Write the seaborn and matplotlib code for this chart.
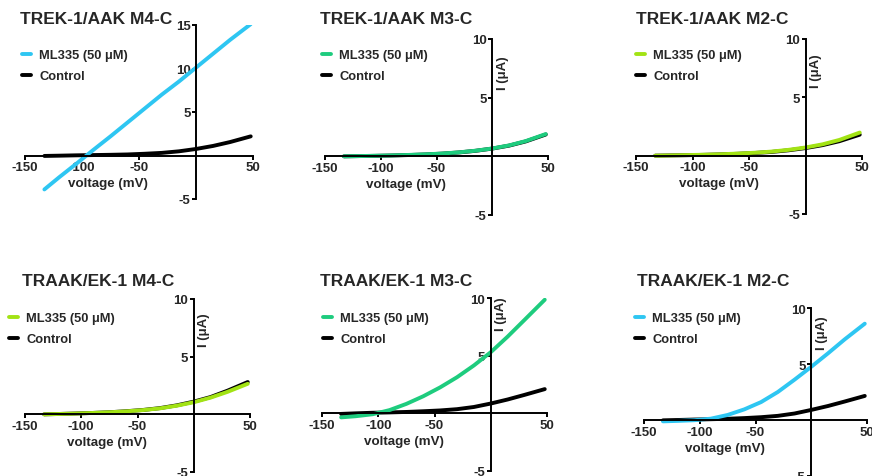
import numpy as np
import pandas as pd
import matplotlib
matplotlib.use("Agg")
import matplotlib.pyplot as plt
import seaborn as sns

sns.set_style("white")
plt.rcParams["font.family"] = ["Liberation Sans", "DejaVu Sans"]
plt.rcParams["font.weight"] = "bold"

## datos: voltaje (mV) y corriente (uA)
voltaje = [-133, -120, -105, -90, -75, -60, -45, -30, -15, 0, 15, 30, 48]

titulos = ["TREK-1/AAK M4-C", "TREK-1/AAK M3-C", "TREK-1/AAK M2-C",
           "TRAAK/EK-1 M4-C", "TRAAK/EK-1 M3-C", "TRAAK/EK-1 M2-C"]

ml335_m4_trek = [-3.9, -2.5, -0.95, 0.65, 2.2, 3.8, 5.4, 7.0, 8.5, 10.1, 11.7, 13.3, 15.1]
ctrl_m4_trek = [-0.05, -0.02, 0.02, 0.05, 0.08, 0.12, 0.2, 0.3, 0.48, 0.75, 1.1, 1.55, 2.2]
ml335_m3_trek = [0.0, 0.02, 0.05, 0.08, 0.12, 0.17, 0.24, 0.34, 0.48, 0.67, 0.93, 1.3, 1.9]
ctrl_m3_trek = [0.0, 0.02, 0.04, 0.07, 0.11, 0.16, 0.23, 0.33, 0.47, 0.66, 0.91, 1.27, 1.86]
ml335_m2_trek = [0.0, 0.02, 0.05, 0.08, 0.12, 0.18, 0.25, 0.35, 0.5, 0.7, 0.97, 1.35, 1.98]
ctrl_m2_trek = [0.0, 0.02, 0.04, 0.07, 0.11, 0.16, 0.23, 0.32, 0.46, 0.65, 0.9, 1.24, 1.8]
ml335_m4_traak = [0.0, 0.03, 0.07, 0.12, 0.18, 0.26, 0.37, 0.52, 0.75, 1.05, 1.45, 1.95, 2.65]
ctrl_m4_traak = [0.0, 0.03, 0.07, 0.12, 0.18, 0.27, 0.38, 0.54, 0.78, 1.1, 1.5, 2.05, 2.8]
ml335_m3_traak = [-0.35, -0.25, -0.08, 0.28, 0.82, 1.48, 2.25, 3.13, 4.15, 5.3, 6.65, 8.1, 9.85]
ctrl_m3_traak = [-0.05, 0.0, 0.05, 0.08, 0.12, 0.18, 0.25, 0.36, 0.55, 0.85, 1.2, 1.6, 2.1]
ml335_m2_traak = [-0.12, -0.08, -0.02, 0.12, 0.45, 0.95, 1.6, 2.5, 3.6, 4.75, 5.95, 7.2, 8.6]
ctrl_m2_traak = [-0.03, 0.0, 0.04, 0.07, 0.11, 0.17, 0.25, 0.37, 0.58, 0.9, 1.25, 1.65, 2.15]

ml335 = [ml335_m4_trek, ml335_m3_trek, ml335_m2_trek, ml335_m4_traak, ml335_m3_traak, ml335_m2_traak]
control = [ctrl_m4_trek, ctrl_m3_trek, ctrl_m2_trek, ctrl_m4_traak, ctrl_m3_traak, ctrl_m2_traak]

colores = ["#2EC6F2", "#1ECC7E", "#A2E314", "#A2E314", "#1ECC7E", "#2EC6F2"]
ymax = [15, 10, 10, 10, 10, 10]
yticks = [[-5, 5, 10, 15], [-5, 5, 10], [-5, 5, 10], [-5, 5, 10], [-5, 5, 10], [-5, 5, 10]]
xticks = [-150, -100, -50, 50]

## posicion de cada panel en pixeles: izquierda, derecha, arriba, abajo
cajas = [(25, 253, 26, 200), (325, 548, 40, 216), (636, 862, 40, 215),
         (25, 250, 300, 473), (322, 547, 299, 472), (644, 867, 309, 477)]
pos_titulo = [(20, 19), (320, 19), (636, 19), (22, 281), (320, 281), (637, 281)]
pos_leyenda = [(22, 50), (322, 50), (636, 50), (9, 313), (323, 313), (635, 313)]
pos_ylabel = [None, 7.2, 7.3, 7.4, 8.7, 7.8]

W, H = 872, 477
fig = plt.figure(figsize=(W / 100, H / 100), dpi=100)

for i in range(6):
    l, r, t, b = cajas[i]
    ax = fig.add_axes([l / W, (H - b) / H, (r - l) / W, (b - t) / H])
    sns.lineplot(x=voltaje, y=control[i], color="black", lw=2.8, label="Control", ax=ax)
    sns.lineplot(x=voltaje, y=ml335[i], color=colores[i], lw=2.8, label="ML335 (50 μM)", ax=ax)
    ax.set_xlim(-150, 50)
    ax.set_ylim(-5, ymax[i])
    ax.spines["left"].set_position(("data", 0))
    ax.spines["bottom"].set_position(("data", 0))
    ax.spines["top"].set_visible(False)
    ax.spines["right"].set_visible(False)
    for s in ["left", "bottom"]:
        ax.spines[s].set_linewidth(1.4)
        ax.spines[s].set_color("black")
    ax.set_xticks(xticks)
    ax.set_xticklabels([str(v) for v in xticks])
    ax.set_yticks(yticks[i])
    ax.set_yticklabels([str(v) for v in yticks[i]])
    ax.tick_params(axis="both", direction="out", length=3, width=1.4, labelsize=9.5, pad=1,
                   color="black", left=True, bottom=True)
    ax.set_xlabel("")
    ax.set_ylabel("")
    ax.patch.set_alpha(0)
    ax.annotate("voltage (mV)", xy=(-77, 0), xytext=(0, -20), textcoords="offset points",
                ha="center", va="center", fontsize=9.6, fontweight="bold")
    if pos_ylabel[i] is not None:
        ax.annotate("I (μA)", xy=(0, pos_ylabel[i]), xytext=(7.5, 0), textcoords="offset points",
                    ha="center", va="center", rotation=90, fontsize=9.5, fontweight="bold")
    h, lab = ax.get_legend_handles_labels()
    lx, ly = pos_leyenda[i]
    ax.legend(h[::-1], lab[::-1], loc="upper left", bbox_to_anchor=(lx / W, 1 - ly / H),
              bbox_transform=fig.transFigure, frameon=False, borderpad=0, borderaxespad=0,
              handlelength=0.7, handletextpad=0.65, labelspacing=0.72,
              prop={"size": 9.3, "weight": "bold"})
    tx, ty = pos_titulo[i]
    fig.text(tx / W, 1 - ty / H, titulos[i], ha="left", va="center", fontsize=12.5, fontweight="bold")

plt.savefig("out.png", dpi=100)
